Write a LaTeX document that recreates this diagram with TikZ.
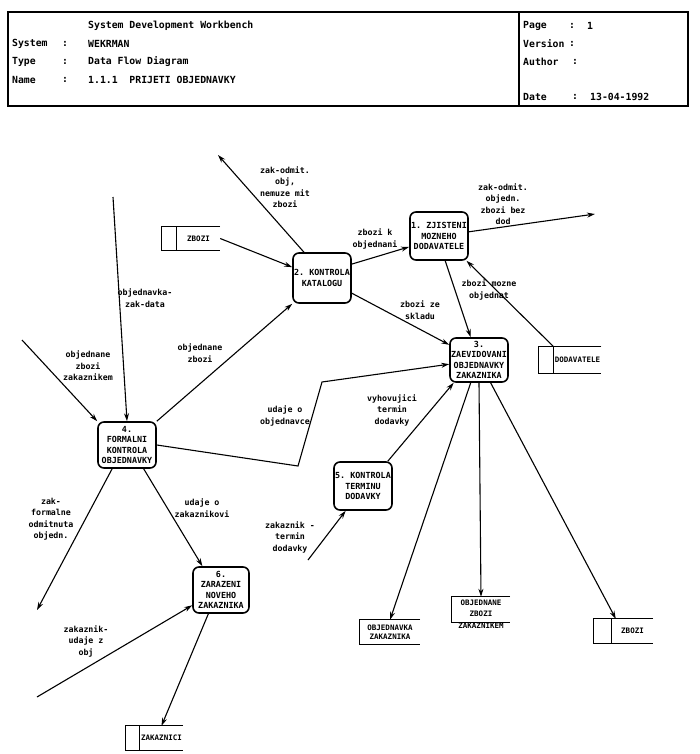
\documentclass[tikz,border=0pt]{standalone}
\usepackage{fontspec}
\setmonofont{DejaVu Sans Mono}
\usetikzlibrary{arrows.meta}
\tikzstyle{proc}=[rectangle,rounded corners=6pt,draw=black,line width=1.6pt,
  minimum width=58pt,minimum height=46pt,inner sep=1pt,align=center,
  font=\ttfamily\bfseries\fontsize{8.4}{10.5}\selectfont]
\tikzstyle{store}=[rectangle,minimum height=24pt,inner sep=1pt,align=center,
  font=\ttfamily\bfseries\fontsize{7.5}{9}\selectfont]
\tikzstyle{flow}=[line width=1.1pt,-{Stealth[length=8pt,width=5pt]}]
\tikzstyle{lbl}=[align=center,inner sep=0pt,
  font=\ttfamily\bfseries\fontsize{8.3}{11.5}\selectfont]
\tikzstyle{hdr}=[anchor=west,inner sep=0pt,
  font=\ttfamily\bfseries\fontsize{9.8}{11}\selectfont]

\begin{document}
\begin{tikzpicture}[x=1pt,y=-1pt]
    \useasboundingbox (0,0) rectangle (700,754);
    % header
    \draw [line width=1.4pt] (8,12) rectangle (688,106);
    \draw [line width=1.4pt] (519,12) -- (519,106);
    \node [hdr] (title) at (88,26) {System Development Workbench};
    \node [hdr] (sysl) at (12,44) {System};
    \node [hdr] (sysc) at (62,44) {:};
    \node [hdr] (sysv) at (88,44) {WEKRMAN};
    \node [hdr] (typl) at (12,62) {Type};
    \node [hdr] (typc) at (62,62) {:};
    \node [hdr] (typv) at (88,62) {Data Flow Diagram};
    \node [hdr] (naml) at (12,80) {Name};
    \node [hdr] (namc) at (62,80) {:};
    \node [hdr] (namv) at (88,80) {1.1.1\ \ PRIJETI OBJEDNAVKY};
    \node [hdr] (pagl) at (523,26) {Page};
    \node [hdr] (pagc) at (569,26) {:};
    \node [hdr] (pagv) at (587,26) {1};
    \node [hdr] (verl) at (523,44) {Version};
    \node [hdr] (verc) at (569,44) {:};
    \node [hdr] (autl) at (523,62) {Author};
    \node [hdr] (autc) at (572,62) {:};
    \node [hdr] (datl) at (523,97) {Date};
    \node [hdr] (datc) at (572,97) {:};
    \node [hdr] (datv) at (590,97) {13-04-1992};

    % processes
    \node [proc,minimum height=48pt] (p1) at (439,236) {1. ZJISTENI\\MOZNEHO\\DODAVATELE};
    \node [proc,minimum height=50pt] (p2) at (322,278) {2. KONTROLA\\KATALOGU};
    \node [proc,minimum height=44pt] (p3) at (479,360) {3.\\ZAEVIDOVANI\\OBJEDNAVKY\\ZAKAZNIKA};
    \node [proc] (p4) at (127,445) {4.\\FORMALNI\\KONTROLA\\OBJEDNAVKY};
    \node [proc,minimum height=48pt] (p5) at (363,486) {5. KONTROLA\\TERMINU\\DODAVKY};
    \node [proc,minimum width=56pt] (p6) at (221,590) {6.\\ZARAZENI\\NOVEHO\\ZAKAZNIKA};

    % data stores
    \node [store,minimum width=43pt,minimum height=23pt] (zb1) at (198.5,238.5) {ZBOZI};
    \node [store,minimum width=45pt,minimum height=26pt] (dod) at (577.5,360) {DODAVATELE};
    \node [store,minimum width=60pt] (obz) at (390,632) {OBJEDNAVKA\\ZAKAZNIKA};
    \node [store,minimum width=58pt,minimum height=25pt] (obzb) at (481,609.5) {};
    \node [store,font=\ttfamily\bfseries\fontsize{7.5}{11.5}\selectfont] (obzbt) at (481,614) {OBJEDNANE\\ZBOZI\\ZAKAZNIKEM};
    \node [store,minimum width=41pt] (zb2) at (632.5,631) {ZBOZI};
    \node [store,minimum width=43pt] (zak) at (161.5,738) {ZAKAZNICI};
    \foreach \s/\c in {zb1/15,dod/15,obz/0,obzb/0,zb2/18,zak/14} {
      \draw [line width=1.2pt] (\s.north east) -- ([xshift=-\c pt]\s.north west)
        -- ([xshift=-\c pt]\s.south west) -- (\s.south east);
      \draw [line width=1.2pt] (\s.north west) -- (\s.south west);
    }

    % free ends and bends
    \coordinate (in1) at (113,197);
    \coordinate (in2) at (22,340);
    \coordinate (out1) at (218,155);
    \coordinate (out2) at (595,214);
    \coordinate (in3) at (308,560);
    \coordinate (out3) at (37,610);
    \coordinate (in4) at (37,697);
    \coordinate (b1) at (298,466);
    \coordinate (b2) at (322,382);

    % flows
    \draw [flow] (in1) -- (p4.north);
    \draw [flow] (in2) -- (p4.north west);
    \draw [flow] (p4.north east) -- (p2.south west);
    \draw [flow] (p4.east) -- (b1) -- (b2) -- (p3.188);
    \draw [flow] (zb1.east) -- (p2.160);
    \draw [flow] (p2.125) -- (out1);
    \draw [flow] (p2.25) -- (p1.200);
    \draw [flow] (p1.8) -- (out2);
    \draw [flow] (dod.north west) -- (p1.-42);
    \draw [flow] (p1.-76) -- (p3.110);
    \draw [flow] (p2.-27) -- (p3.153);
    \draw [flow] (p5.45) -- (p3.222);
    \draw [flow] (in3) -- (p5.235);
    \draw [flow] (p3.250) -- (obz.north);
    \draw [flow] (p3.south) -- (obzb.north);
    \draw [flow] (p3.-63) -- ([xshift=4pt]zb2.north west);
    \draw [flow] (p4.-122) -- (out3);
    \draw [flow] (p4.-55) -- (p6.128);
    \draw [flow] (in4) -- (p6.208);
    \draw [flow] (p6.-118) -- (zak.north);

    % flow labels
    \node [lbl] (l1) at (145,298) {objednavka-\\zak-data};
    \node [lbl] (l2) at (88,366) {objednane\\zbozi\\zakaznikem};
    \node [lbl] (l3) at (200,353) {objednane\\zbozi};
    \node [lbl] (l4) at (285,416) {udaje o\\objednavce};
    \node [lbl] (l5) at (285,187) {zak-odmit.\\obj,\\nemuze mit\\zbozi};
    \node [lbl] (l6) at (375,239) {zbozi k\\objednani};
    \node [lbl] (l7) at (420,310) {zbozi ze\\skladu};
    \node [lbl] (l8) at (503,204) {zak-odmit.\\objedn.\\zbozi bez\\dod};
    \node [lbl] (l9) at (489,290) {zbozi mozne\\objednat};
    \node [lbl] (l10) at (392,410) {vyhovujici\\termin\\dodavky};
    \node [lbl] (l11) at (290,537) {zakaznik -\\termin\\dodavky};
    \node [lbl] (l12) at (202,508) {udaje o\\zakaznikovi};
    \node [lbl] (l13) at (51,519) {zak-\\formalne\\odmitnuta\\objedn.};
    \node [lbl] (l14) at (86,641) {zakaznik-\\udaje z\\obj};
  \end{tikzpicture}
\end{document}
